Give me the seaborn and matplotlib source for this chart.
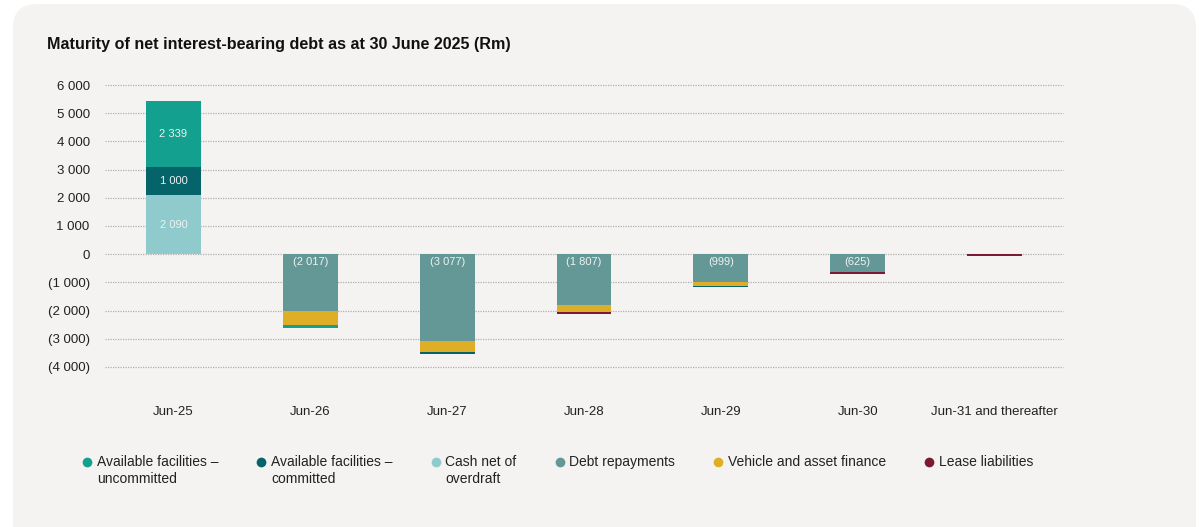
import matplotlib
matplotlib.use("Agg")
import matplotlib.pyplot as plt
from matplotlib.patches import FancyBboxPatch
from matplotlib.lines import Line2D
from matplotlib.legend_handler import HandlerLine2D
import seaborn as sns
import numpy as np
import pandas as pd

categories = ["Jun-25", "Jun-26", "Jun-27", "Jun-28", "Jun-29", "Jun-30", "Jun-31 and thereafter"]
cash_net_overdraft = [2090, 0, 0, 0, 0, 0, 0]
facilities_committed = [1000, 0, -70, 0, -30, 0, 0]
facilities_uncommitted = [2339, -100, 0, 0, 0, 0, 0]
debt_repayments = [0, -2017, -3077, -1807, -999, -625, 0]
vehicle_asset_finance = [0, -500, -400, -250, -140, -20, 0]
lease_liabilities = [0, 0, 0, -70, 0, -50, -70]
y_ticks = [6000, 5000, 4000, 3000, 2000, 1000, 0, -1000, -2000, -3000, -4000]

title = "Maturity of net interest-bearing debt as at 30 June 2025 (Rm)"
legend_labels = ["Available facilities –\nuncommitted", "Available facilities –\ncommitted",
                 "Cash net of\noverdraft", "Debt repayments", "Vehicle and asset finance",
                 "Lease liabilities"]

C_UNC = "#13a08f"
C_COM = "#05636a"
C_CASH = "#8fcbcc"
C_DEBT = "#649896"
C_VEH = "#deae26"
C_LEASE = "#7c1a33"

sns.set_style("white")
plt.rcParams["font.family"] = ["Liberation Sans", "DejaVu Sans"]

def fmt(v):
    s = f"{abs(int(v)):,}".replace(",", " ")
    return f"({s})" if v < 0 else s

fig = plt.figure(figsize=(11.99, 5.27), dpi=100)
fig.patch.set_facecolor("white")
panel = FancyBboxPatch((13 / 1199, -0.1), (1196 - 13) / 1199, 1.1 - 4 / 527,
                       boxstyle="round,pad=0,rounding_size=0.02",
                       transform=fig.transFigure, facecolor="#f4f3f1", edgecolor="none",
                       mutation_aspect=1199 / 527, zorder=-10)
fig.patches.append(panel)

ax = fig.add_axes([105 / 1199, 1 - 367 / 527, (1063 - 105) / 1199, (367 - 85) / 527])
ax.set_facecolor("none")
ax.set_zorder(5)

series = [
    ("cash", cash_net_overdraft, C_CASH),
    ("committed", facilities_committed, C_COM),
    ("uncommitted", facilities_uncommitted, C_UNC),
    ("debt", debt_repayments, C_DEBT),
    ("vehicle", vehicle_asset_finance, C_VEH),
    ("lease", lease_liabilities, C_LEASE),
]
neg_order = ["debt", "vehicle", "uncommitted", "committed", "lease"]
pos_order = ["cash", "committed", "uncommitted"]
sdict = {k: (np.array(v, dtype=float), c) for k, v, c in series}

pos_base = np.zeros(len(categories))
neg_base = np.zeros(len(categories))
segments = []
for name in pos_order:
    vals, col = sdict[name]
    v = np.where(vals > 0, vals, 0)
    df = pd.DataFrame({"cat": categories, "val": v})
    sns.barplot(data=df, x="cat", y="val", bottom=pos_base.copy(), color=col, width=0.4,
                errorbar=None, ax=ax, saturation=1, linewidth=0, zorder=3)
    segments.append((name, v, pos_base.copy()))
    pos_base = pos_base + v
for name in neg_order:
    vals, col = sdict[name]
    v = np.where(vals < 0, vals, 0)
    df = pd.DataFrame({"cat": categories, "val": v})
    sns.barplot(data=df, x="cat", y="val", bottom=neg_base.copy(), color=col, width=0.4,
                errorbar=None, ax=ax, saturation=1, linewidth=0, zorder=3)
    segments.append((name, v, neg_base.copy()))
    neg_base = neg_base + v

lbl_col = "#eef2f2"
for name, v, base in segments:
    for i, val in enumerate(v):
        if name in ("cash", "committed", "uncommitted") and val > 0:
            ax.text(i, base[i] + val / 2, fmt(val), ha="center", va="center",
                    color=lbl_col, fontsize=8, zorder=5)
        if name == "debt" and val < 0:
            ax.annotate(fmt(val), (i, 0), xytext=(0, -8), textcoords="offset pixels",
                        ha="center", va="center", color=lbl_col, fontsize=8, zorder=5)

ax.set_xlim(-0.5, len(categories) - 0.5)
ax.set_ylim(-4000, 6000)
ax.set_yticks(y_ticks)
ax.set_yticklabels([fmt(t) for t in y_ticks])
ax.set_xticks(range(len(categories)))
ax.set_xticklabels(categories)
ax.set_xlabel("")
ax.set_ylabel("")
for s in ax.spines.values():
    s.set_visible(False)
ax.tick_params(axis="y", length=0, pad=11, labelsize=9.5, labelcolor="#222222")
ax.tick_params(axis="x", length=0, pad=28, labelsize=9.5, labelcolor="#222222")
for t in y_ticks:
    ax.axhline(t, color="#b0b0b0", linestyle=(0, (1, 1)), linewidth=0.9, zorder=1, clip_on=False)

fig.text(47 / 1199, 1 - 44 / 527, title, fontsize=11.6, fontweight="bold", color="#111111",
         ha="left", va="center")


class TopHandler(HandlerLine2D):
    def __init__(self, shift, **kw):
        super().__init__(**kw)
        self.shift = shift

    def create_artists(self, legend, orig_handle, xdescent, ydescent, width, height,
                       fontsize, trans):
        arts = super().create_artists(legend, orig_handle, xdescent, ydescent, width, height,
                                      fontsize, trans)
        for a in arts:
            a.set_ydata(np.asarray(a.get_ydata(), dtype=float) + self.shift)
        return arts


LEG_FS = 10
LINESP = 1.25
shift = LEG_FS * LINESP * 0.5 * 1.05
handles = [Line2D([], [], marker="o", linestyle="none", markersize=7, markerfacecolor=c,
                  markeredgecolor="none") for c in [C_UNC, C_COM, C_CASH, C_DEBT, C_VEH, C_LEASE]]
labels_2line = [lab if "\n" in lab else lab + "\n " for lab in legend_labels]
leg = fig.legend(handles, labels_2line, loc="upper left", bbox_to_anchor=(80 / 1199, 1 - 455 / 527),
                 ncol=6, frameon=False, fontsize=LEG_FS, handletextpad=0.2, columnspacing=2.6,
                 handlelength=1.0, borderpad=0, borderaxespad=0,
                 handler_map={Line2D: TopHandler(shift)})
for t in leg.get_texts():
    t.set_color("#222222")
    t.set_linespacing(LINESP)

fig.savefig("out.png", dpi=100, facecolor=fig.get_facecolor())
